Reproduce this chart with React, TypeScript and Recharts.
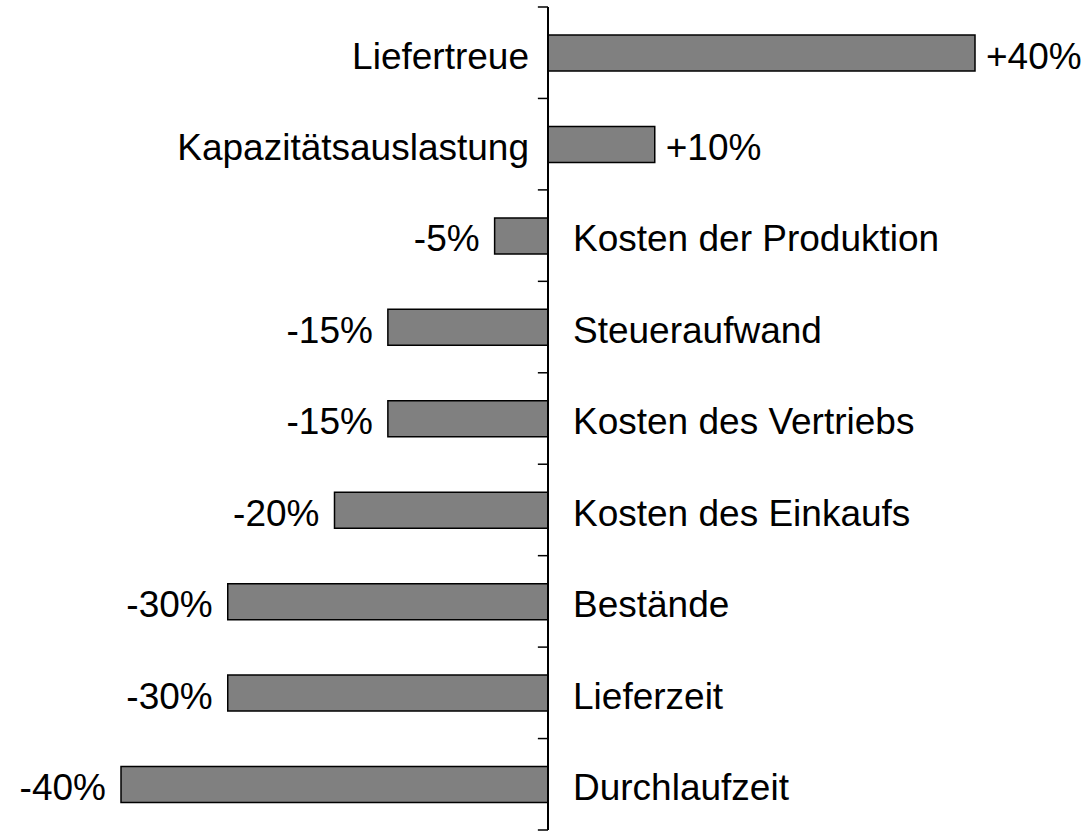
import React from "react";
import { BarChart, Bar, XAxis, YAxis, ReferenceLine, LabelList } from "recharts";

const categories = [
  "Liefertreue",
  "Kapazitätsauslastung",
  "Kosten der Produktion",
  "Steueraufwand",
  "Kosten des Vertriebs",
  "Kosten des Einkaufs",
  "Bestände",
  "Lieferzeit",
  "Durchlaufzeit",
];
const values = [40, 10, -5, -15, -15, -20, -30, -30, -40];
const valueLabels = ["+40%", "+10%", "-5%", "-15%", "-15%", "-20%", "-30%", "-30%", "-40%"];
const boundaryTicks = [0, 1, 2, 3, 4, 5, 6, 7, 8, 9];

const data = categories.map((c, i) => ({
  name: c,
  value: values[i],
  label: valueLabels[i],
  pos: i + 0.5,
}));

const FONT = "'Liberation Sans', Arial, sans-serif";

const BarLabels = (props: any) => {
  const { x, y, width, height, index } = props;
  const left = Math.min(x, x + width);
  const right = Math.max(x, x + width);
  const cy = y + height / 2 + 3;
  const v = values[index];
  const pos = v >= 0;
  const zeroX = pos ? left : right;
  const endX = pos ? right : left;
  return (
    <g>
      <text
        x={pos ? zeroX - 19 : zeroX + 25}
        y={cy}
        textAnchor={pos ? "end" : "start"}
        dominantBaseline="central"
        fontFamily={FONT}
        fontSize={37}
        fill="#000"
      >
        {categories[index]}
      </text>
      <text
        x={pos ? endX + 11 : endX - 15}
        y={cy}
        textAnchor={pos ? "start" : "end"}
        dominantBaseline="central"
        fontFamily={FONT}
        fontSize={37}
        fill="#000"
      >
        {valueLabels[index]}
      </text>
    </g>
  );
};

export default function App() {
  return (
    <div style={{ position: "absolute", left: 0, top: 0, background: "#fff" }}>
      <BarChart
        width={1088}
        height={833}
        data={data}
        layout="vertical"
        margin={{ top: 7, right: 113, bottom: 3, left: 121 }}
      >
        <XAxis type="number" domain={[-40, 40]} hide />
        <YAxis yAxisId="cat" type="category" dataKey="name" hide />
        <YAxis
          yAxisId="grid"
          type="number"
          dataKey="pos"
          domain={[0, 9]}
          ticks={boundaryTicks}
          allowDataOverflow
          hide
        />
        <Bar
          yAxisId="cat"
          dataKey="value"
          fill="#808080"
          stroke="#000"
          strokeWidth={1.5}
          barSize={36}
          isAnimationActive={false}
        >
          <LabelList dataKey="value" content={<BarLabels />} />
        </Bar>
        <ReferenceLine yAxisId="cat" x={0} stroke="#000" strokeWidth={2} />
        {boundaryTicks.map((t) => (
          <ReferenceLine
            key={t}
            yAxisId="grid"
            segment={[
              { x: -0.95, y: t },
              { x: 0, y: t },
            ]}
            stroke="#000"
            strokeWidth={1.5}
            ifOverflow="visible"
          />
        ))}
      </BarChart>
    </div>
  );
}
